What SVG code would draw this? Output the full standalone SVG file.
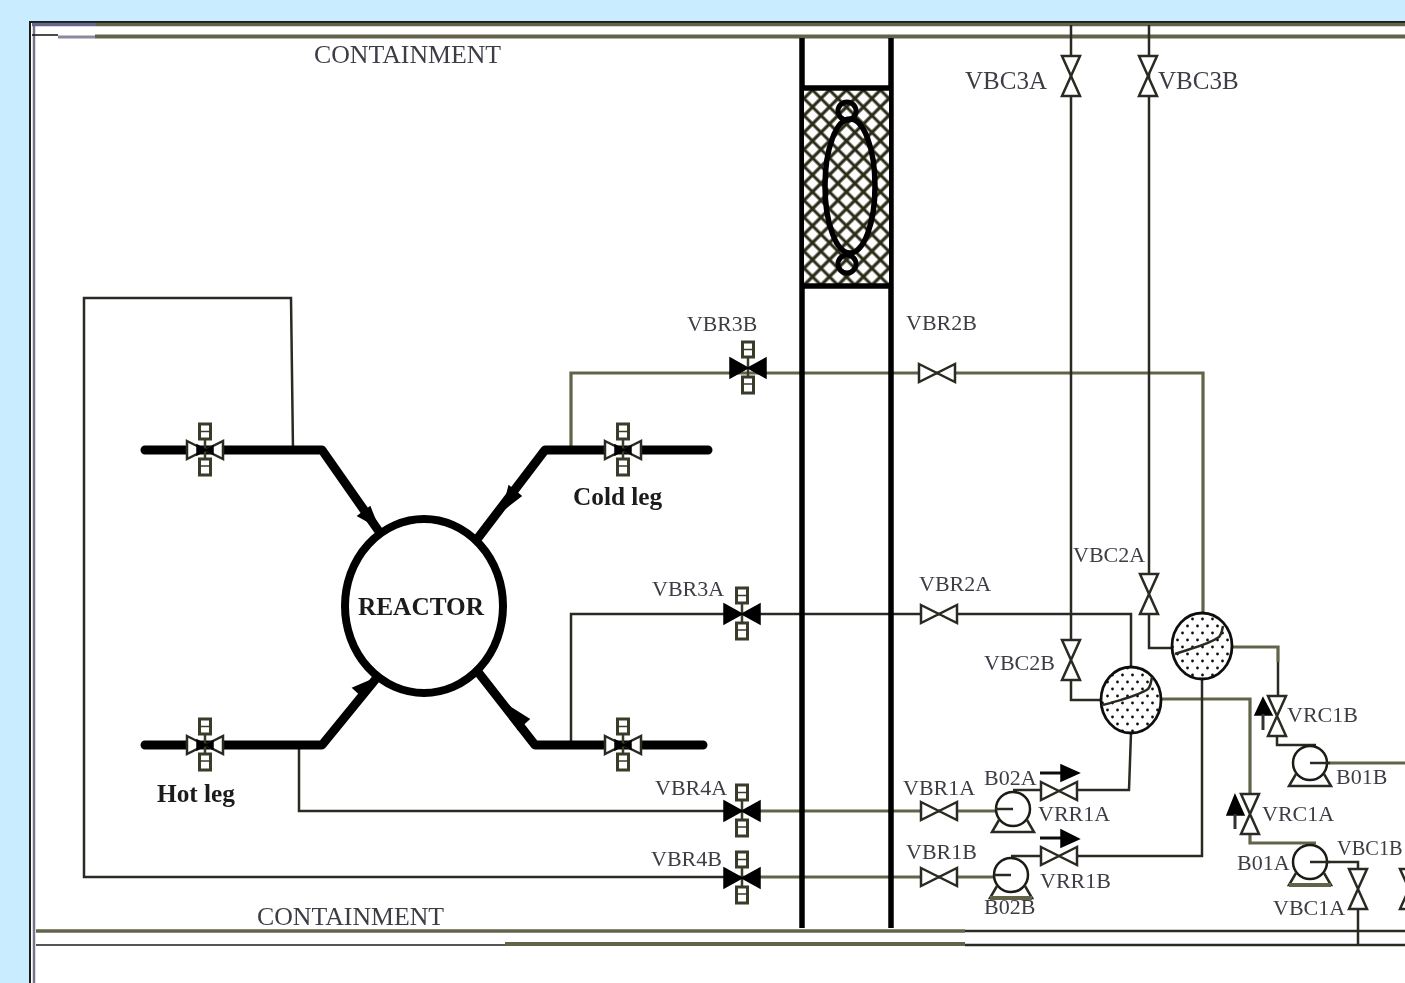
<svg xmlns="http://www.w3.org/2000/svg" width="1405" height="983" viewBox="0 0 1405 983">
<style>
text{font-family:"Liberation Serif","Times New Roman",serif;fill:#3c3c44}
.l{font-size:25px}.m{font-size:22px}.s{font-size:21.800px}.c{font-size:25.800px}
.b{font-size:25.300px;font-weight:bold;fill:#1a1a1a}
.t{fill:none;stroke:#2a2a20;stroke-width:2.500}
.o{fill:none;stroke:#63634a;stroke-width:3.200}
.k{fill:none;stroke:#000;stroke-width:9;stroke-linecap:round;stroke-linejoin:round}
.w{fill:none;stroke:#000;stroke-width:5.500}
.v{fill:#fff;stroke:#2a2a20;stroke-width:2.500;stroke-linejoin:miter}
.f{fill:#000;stroke:#000;stroke-width:1.500}
.a{fill:#fff;stroke:#3a3a2a;stroke-width:3}
.p{fill:#fff;stroke:#1c1c14;stroke-width:2.500}
.x{fill:url(#dots);stroke:#111;stroke-width:2.800}
</style>
<defs>
<filter id="soft" filterUnits="userSpaceOnUse" x="0" y="0" width="1405" height="983"><feGaussianBlur stdDeviation="0.6"/></filter>
<pattern id="hatch" width="12" height="12" patternUnits="userSpaceOnUse" patternTransform="translate(804 90) rotate(45)">
<rect width="12" height="12" fill="#fff"/><path d="M0 6H12M6 0V12" stroke="#2c2c18" stroke-width="3.200" fill="none"/>
</pattern>
<pattern id="dots" width="10" height="14" patternUnits="userSpaceOnUse">
<rect width="10" height="14" fill="#fff"/><circle cx="2.500" cy="3" r="1.400" fill="#111"/><circle cx="7.500" cy="10" r="1.400" fill="#111"/>
</pattern>
<g id="vh"><path class="v" d="M-18 -9L18 9V-9L-18 9Z"/></g>
<g id="vv"><path class="v" d="M-9 -20H9L-9 20H9Z"/></g>
<g id="act"><rect class="a" x="-5.500" y="-26" width="11" height="15"/><path d="M-5.500 -18.500H5.500" stroke="#3a3a2a" stroke-width="1.500"/><rect class="a" x="-5.500" y="9" width="11" height="16"/><path d="M-5.500 16H5.500" stroke="#3a3a2a" stroke-width="1.500"/><path d="M0 -11V9" stroke="#3a3a2a" stroke-width="2.500"/></g>
<g id="vw"><use href="#act"/><path class="v" d="M-18 -9L18 9V-9L-18 9Z"/><path class="f" d="M-8 -5L8 4V-4L-8 5Z"/></g>
<g id="vk"><use href="#act"/><path class="f" d="M-18 -10L18 10V-10L-18 10Z"/></g>
<g id="pump"><circle class="p" r="17"/><path class="t" d="M-14 11L-21 23H21L14 11"/></g>
<g id="pumpb"><circle class="p" r="17"/><path class="t" d="M-14 11L-21 23H21L14 11"/><path d="M-21 23H21" stroke="#63634a" stroke-width="4"/></g>
</defs>
<rect width="1405" height="983" fill="#c9ecff"/>
<g filter="url(#soft)">
<rect x="30" y="21" width="1400" height="970" fill="#fff"/>
<g id="frame">
<path d="M30 983V22H1405" fill="none" stroke="#1a1a1a" stroke-width="2"/>
<path d="M34 983V24" fill="none" stroke="#77778a" stroke-width="2.500"/>
<path d="M32 24.500H96" stroke="#66668a" stroke-width="3.500"/><path d="M96 24.500H1405" stroke="#63634a" stroke-width="3.500"/>
<path d="M32 35H58" stroke="#111" stroke-width="1.500"/><path d="M58 37H95" stroke="#8a8a9a" stroke-width="3"/><path d="M95 36.500H1405" class="o" style="stroke-width:4"/>
<path d="M36 931H965" class="o" style="stroke-width:3.500"/><path d="M965 931H1405" class="t"/>
<path d="M36 945H505" stroke="#555" stroke-width="2"/><path d="M505 944H965" class="o" style="stroke-width:4"/><path d="M965 945H1405" class="t"/>
</g>
<g id="connectors">
<path class="t" d="M293 450L291 298H84V877H745"/>
<path class="t" d="M299 745V811H745"/>
<path class="o" d="M571 450V373H1203V615"/>
<path class="t" d="M571 745V614H1131V668"/>
<path class="o" d="M745 811H995M745 877H995"/>
<path class="t" d="M1071 25V640M1071 680V700H1100"/>
<path class="t" d="M1149 25V575M1149 614V648H1172"/>
<path class="o" d="M1233 647H1278V662"/><path class="t" d="M1278 662V697M1277 736V745H1316"/>
<path class="o" d="M1162 699H1250V795"/><path class="o" d="M1250 834V843H1316"/>
<path class="t" d="M1131 733L1129 790H1078M1202 680V856H1078"/>
<path class="t" d="M1013 790H1040M1011 856H1040"/>
<path class="o" d="M1310 763H1405"/><path class="t" d="M1310 862H1358V870M1358 908V945"/>
<path class="k" d="M145 450H322L378 530"/>
<path class="k" d="M708 450H545L478 538"/>
<path class="k" d="M145 745H322L375 680"/>
<path class="k" d="M703 745H535L478 672"/>
<path class="f" d="M378 527L358 516L370 507Z"/>
<path class="f" d="M503 510L509 486L521 496Z"/>
<path class="f" d="M376 678L364 698L353 688Z"/>
<path class="f" d="M508 706L529 719L518 729Z"/>
<path class="w" d="M802 38V928M891 38V928"/>
</g>
<g id="airlock">
<rect x="804" y="90" width="85" height="196" fill="url(#hatch)"/>
<path class="w" d="M800 88H893M800 286H893"/>
<ellipse cx="850" cy="186" rx="25" ry="67" fill="none" stroke="#000" stroke-width="5.500"/>
<circle cx="847" cy="111" r="9" fill="none" stroke="#000" stroke-width="5"/>
<circle cx="847" cy="264" r="9" fill="none" stroke="#000" stroke-width="5"/>
</g>
<g id="reactor"><ellipse cx="424" cy="606" rx="79" ry="87" fill="#fff" stroke="#000" stroke-width="8"/><text class="b" x="421" y="615" text-anchor="middle">REACTOR</text></g>
<g id="v-hot-up"><use href="#vw" x="205" y="450"/></g>
<g id="v-cold-up"><use href="#vw" x="623" y="450"/></g>
<g id="v-hot-low"><use href="#vw" x="205" y="745"/></g>
<g id="v-cold-low"><use href="#vw" x="623" y="745"/></g>
<g id="VBR3B"><use href="#vk" x="748" y="368"/><text class="s" x="687" y="331">VBR3B</text></g>
<g id="VBR3A"><use href="#vk" x="742" y="614"/><text class="m" x="652" y="596">VBR3A</text></g>
<g id="VBR4A"><use href="#vk" x="742" y="811"/><text class="m" x="655" y="795">VBR4A</text></g>
<g id="VBR4B"><use href="#vk" x="742" y="878"/><text class="m" x="651" y="866">VBR4B</text></g>
<g id="VBR2B"><use href="#vh" x="937" y="373"/><text class="m" x="906" y="330">VBR2B</text></g>
<g id="VBR2A"><use href="#vh" x="939" y="614"/><text class="m" x="919" y="591">VBR2A</text></g>
<g id="VBR1A"><use href="#vh" x="939" y="811"/><text class="m" x="903" y="795">VBR1A</text></g>
<g id="VBR1B"><use href="#vh" x="939" y="877"/><text class="m" x="906" y="859">VBR1B</text></g>
<g id="VBC3A"><use href="#vv" x="1071" y="76"/><text class="l" x="965" y="89">VBC3A</text></g>
<g id="VBC3B"><use href="#vv" x="1148" y="76"/><text class="l" x="1158" y="89">VBC3B</text></g>
<g id="VBC2A"><use href="#vv" x="1149" y="594"/><text class="m" x="1073" y="562">VBC2A</text></g>
<g id="VBC2B"><use href="#vv" x="1071" y="660"/><text class="m" x="984" y="670">VBC2B</text></g>
<g id="HX-A"><ellipse class="x" cx="1131" cy="700" rx="30" ry="33"/><path class="t" d="M1103 705C1120 700 1138 696 1148 689C1151 686 1151 681 1152 677"/></g>
<g id="HX-B"><ellipse class="x" cx="1202" cy="646" rx="30" ry="33"/><path class="t" d="M1175 654C1192 648 1208 645 1219 637C1222 634 1222 630 1223 626"/></g>
<g id="VRC1B"><use href="#vv" x="1277" y="716"/><path class="f" d="M1263 698L1272 715H1255Z"/><path d="M1263 714V730" stroke="#333" stroke-width="3"/><text class="m" x="1287" y="722">VRC1B</text></g>
<g id="VRC1A"><use href="#vv" x="1250" y="814"/><path class="f" d="M1235 795L1244 815H1227Z"/><path d="M1235 814V829" stroke="#333" stroke-width="3"/><text class="m" x="1262" y="821">VRC1A</text></g>
<g id="VBC1A"><use href="#vv" x="1358" y="889"/><text class="m" x="1273" y="915">VBC1A</text></g>
<g id="VBC-right"><use href="#vv" x="1409" y="889"/></g>
<text x="1337" y="855" style="font-size:20.400px">VBC1B</text>
<g id="VRR1A"><use href="#vh" x="1059" y="791"/><path d="M1040 773H1062" stroke="#111" stroke-width="3"/><path class="f" d="M1061 765L1079 773L1061 781Z"/><text class="m" x="1038" y="821">VRR1A</text></g>
<g id="VRR1B"><use href="#vh" x="1059" y="856"/><path d="M1040 838H1062" stroke="#111" stroke-width="3"/><path class="f" d="M1061 830L1079 839L1061 847Z"/><text class="m" x="1040" y="888">VRR1B</text></g>
<g id="B02A"><use href="#pump" x="1013" y="809"/><path class="t" d="M995 809H1013"/><text class="m" x="984" y="785">B02A</text></g>
<g id="B02B"><use href="#pumpb" x="1011" y="875"/><path class="t" d="M994 875H1011"/><text class="m" x="984" y="914">B02B</text></g>
<g id="B01B"><use href="#pump" x="1310" y="763"/><path class="t" d="M1310 763H1330"/><text class="m" x="1336" y="784">B01B</text></g>
<g id="B01A"><use href="#pumpb" x="1310" y="862"/><path class="t" d="M1310 862H1330"/><text class="m" x="1237" y="870">B01A</text></g>
<text class="c" x="314" y="63">CONTAINMENT</text>
<text class="c" x="257" y="925">CONTAINMENT</text>
<text class="b" x="573" y="505">Cold leg</text>
<text class="b" x="157" y="802">Hot leg</text>
</g>
</svg>
